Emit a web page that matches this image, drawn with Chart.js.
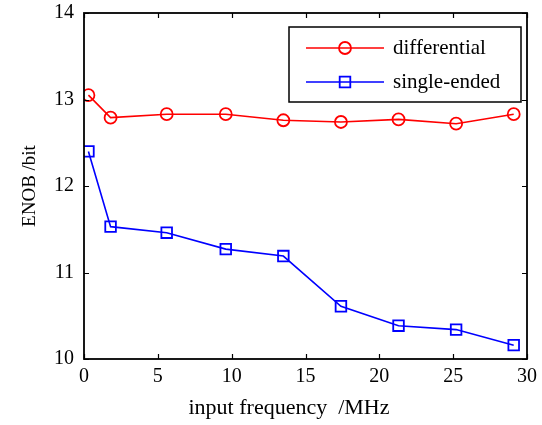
<!DOCTYPE html>
<html>
<head>
<meta charset="utf-8">
<script src="https://cdn.jsdelivr.net/npm/chart.js@4/dist/chart.umd.min.js"></script>
<style>
  body { margin: 0; background: #fff; }
  #wrap { width: 542px; height: 425px; }
</style>
</head>
<body>
<div id="wrap"><canvas id="enobChart" width="542" height="425"></canvas></div>
<script>
// values
const freqMHz = [0.3, 1.8, 5.6, 9.6, 13.5, 17.4, 21.3, 25.2, 29.1];
const enobDifferential = [13.05, 12.79, 12.83, 12.83, 12.76, 12.74, 12.77, 12.72, 12.83];
const enobSingleEnded = [12.40, 11.53, 11.46, 11.27, 11.19, 10.61, 10.385, 10.34, 10.16];
const seriesNames = ['differential', 'single-ended'];
const xTicks = [0, 5, 10, 15, 20, 25, 30];
const yTicks = [10, 11, 12, 13, 14];

const serif = "'Liberation Serif', 'Times New Roman', serif";

function toPoints(xs, ys) {
    return xs.map((x, i) => ({ x: x, y: ys[i] }));
}

// box around the plot plus inward tick marks on all four sides (matlab look)
const boxPlugin = {
    id: 'boxPlugin',
    afterDraw(chart) {
        const { ctx, chartArea: a, scales } = chart;
        const len = 5;
        ctx.save();
        ctx.strokeStyle = '#000';
        ctx.lineWidth = 1.2;
        ctx.beginPath();
        xTicks.forEach(v => {
            const px = Math.round(scales.x.getPixelForValue(v)) + 0.5;
            ctx.moveTo(px, a.bottom); ctx.lineTo(px, a.bottom - len);
            ctx.moveTo(px, a.top); ctx.lineTo(px, a.top + len);
        });
        yTicks.forEach(v => {
            const py = Math.round(scales.y.getPixelForValue(v)) + 0.5;
            ctx.moveTo(a.left, py); ctx.lineTo(a.left + len, py);
            ctx.moveTo(a.right, py); ctx.lineTo(a.right - len, py);
        });
        ctx.stroke();
        ctx.lineWidth = 1.8;
        ctx.strokeRect(a.left, a.top, a.right - a.left, a.bottom - a.top);
        ctx.restore();
    }
};

// legend with line + marker samples, drawn inside the plot
const legendPlugin = {
    id: 'legendBox',
    afterDraw(chart) {
        const { ctx, chartArea: a } = chart;
        const bx = a.right - 238, by = a.top + 14, bw = 232, bh = 75;
        ctx.save();
        ctx.fillStyle = '#fff';
        ctx.fillRect(bx, by, bw, bh);
        ctx.strokeStyle = '#000';
        ctx.lineWidth = 1.5;
        ctx.strokeRect(bx, by, bw, bh);
        chart.data.datasets.forEach((ds, i) => {
            const y = by + 21 + i * 34;
            ctx.strokeStyle = ds.borderColor;
            ctx.lineWidth = ds.borderWidth;
            ctx.beginPath();
            ctx.moveTo(bx + 17, y); ctx.lineTo(bx + 95, y);
            ctx.stroke();
            ctx.fillStyle = 'rgba(0,0,0,0)';
            ctx.lineWidth = ds.pointBorderWidth;
            Chart.helpers.drawPoint(ctx, {
                pointStyle: ds.pointStyle,
                radius: ds.pointRadius,
                borderWidth: ds.pointBorderWidth
            }, bx + 56, y);
            ctx.fillStyle = '#000';
            ctx.font = '21px ' + serif;
            ctx.textBaseline = 'middle';
            ctx.fillText(ds.label, bx + 104, y);
        });
        ctx.restore();
    }
};

new Chart(document.getElementById('enobChart'), {
    type: 'scatter',
    data: {
        datasets: [{
            label: seriesNames[0],
            data: toPoints(freqMHz, enobDifferential),
            showLine: true,
            borderColor: '#ff0000',
            backgroundColor: 'rgba(0,0,0,0)',
            borderWidth: 1.6,
            pointStyle: 'circle',
            pointRadius: 6,
            pointBorderWidth: 1.8
        }, {
            label: seriesNames[1],
            data: toPoints(freqMHz, enobSingleEnded),
            showLine: true,
            borderColor: '#0000ff',
            backgroundColor: 'rgba(0,0,0,0)',
            borderWidth: 1.6,
            pointStyle: 'rect',
            pointRadius: 7.5,
            pointBorderWidth: 1.8
        }]
    },
    options: {
        responsive: false,
        animation: false,
        layout: { padding: { top: 13, right: 15, left: 0, bottom: 0 } },
        plugins: {
            legend: { display: false },
            tooltip: { enabled: false }
        },
        scales: {
            x: {
                type: 'linear',
                min: 0, max: 30,
                afterBuildTicks: s => { s.ticks = xTicks.map(v => ({ value: v })); },
                afterFit: s => { s.height = 66; s.paddingLeft = 0; s.paddingRight = 0; },
                grid: { display: false, drawTicks: false },
                border: { display: false },
                ticks: { color: '#000', padding: 6, font: { family: serif, size: 20 } },
                title: {
                    // trailing spaces nudge the label left, as in the original figure
                    display: true, text: 'input frequency  /MHz      ', color: '#000',
                    font: { family: serif, size: 22 }, padding: { top: 0, bottom: 4 }
                }
            },
            y: {
                type: 'linear',
                min: 10, max: 14,
                afterBuildTicks: s => { s.ticks = yTicks.map(v => ({ value: v })); },
                afterFit: s => { s.width = 84; s.paddingTop = 0; s.paddingBottom = 0; },
                grid: { display: false, drawTicks: false },
                border: { display: false },
                ticks: { color: '#000', padding: 10, font: { family: serif, size: 20 } },
                title: {
                    display: true, text: 'ENOB /bit', color: '#000',
                    font: { family: serif, size: 19 }, padding: { top: 19, bottom: 0 }
                }
            }
        }
    },
    plugins: [boxPlugin, legendPlugin]
});
</script>
</body>
</html>
